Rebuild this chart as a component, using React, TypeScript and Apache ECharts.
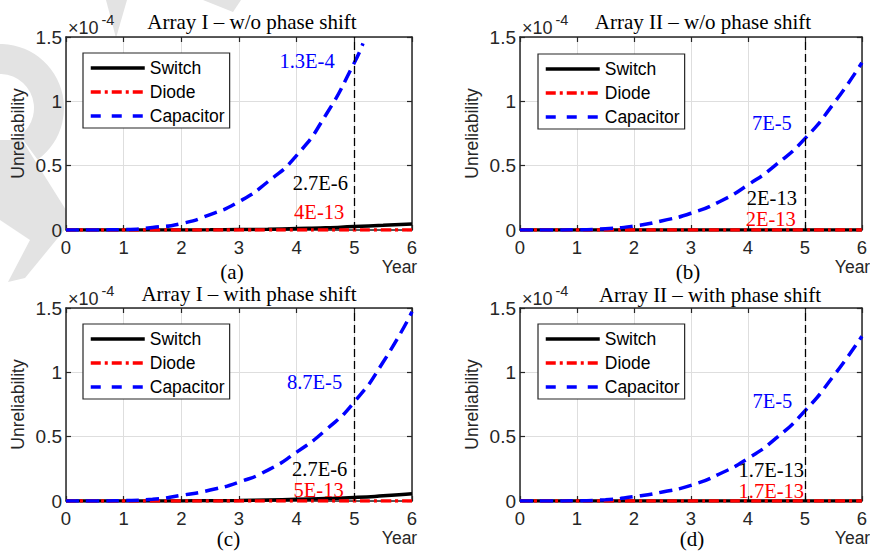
import React, { useEffect, useRef } from "react";
import * as echarts from "echarts";

// ---- data (values in units of 1e-4) ----
const years = [0, 0.5, 1, 1.5, 2, 2.5, 3, 3.5, 4, 4.5, 5, 5.5, 6];
const capAYears = [0, 0.5, 1, 1.5, 2, 2.5, 3, 3.5, 4, 4.5, 5, 5.15];

const capA = [0, 0.0005, 0.003, 0.02, 0.05, 0.12, 0.22, 0.375, 0.58, 0.89, 1.3, 1.45];
const switchA = [0, 0, 0, 0, 0.0005, 0.001, 0.003, 0.006, 0.011, 0.017, 0.027, 0.036, 0.047];
const diodeA = [0, 0, 0, 0, 0, 0, 0, 0, 0, 0, 0, 0, 0];

const capB = [0, 0.0002, 0.002, 0.01, 0.031, 0.072, 0.13, 0.22, 0.35, 0.51, 0.71, 0.98, 1.3];
const switchB = [0, 0, 0, 0, 0, 0, 0, 0, 0, 0, 0, 0, 0];
const diodeB = [0, 0, 0, 0, 0, 0, 0, 0, 0, 0, 0, 0, 0];

const capC = [0, 0.0003, 0.003, 0.013, 0.044, 0.085, 0.147, 0.24, 0.38, 0.55, 0.77, 1.08, 1.47];
const switchC = [0, 0, 0, 0, 0.0005, 0.002, 0.004, 0.008, 0.013, 0.019, 0.027, 0.04, 0.057];
const diodeC = [0, 0, 0, 0, 0, 0, 0, 0, 0, 0, 0, 0, 0];

const capD = [0, 0.0002, 0.002, 0.01, 0.034, 0.07, 0.122, 0.21, 0.33, 0.49, 0.7, 0.97, 1.28];
const switchD = [0, 0, 0, 0, 0, 0, 0, 0, 0, 0, 0, 0, 0];
const diodeD = [0, 0, 0, 0, 0, 0, 0, 0, 0, 0, 0, 0, 0];

const titles = [
  "Array I \u2013 w/o phase shift",
  "Array II \u2013 w/o phase shift",
  "Array I \u2013 with phase shift",
  "Array II \u2013 with phase shift",
];
const captions = ["(a)", "(b)", "(c)", "(d)"];
const seriesNames = ["Switch", "Diode", "Capacitor"];
const xTicks = { min: 0, max: 6, interval: 1 };
const yTicks = { min: 0, max: 1.5, interval: 0.5 };
const markYear = 5;

// annotation texts: [capacitor, switch, diode]
const annA = ["1.3E-4", "2.7E-6", "4E-13"];
const annB = ["7E-5", "2E-13", "2E-13"];
const annC = ["8.7E-5", "2.7E-6", "5E-13"];
const annD = ["7E-5", "1.7E-13", "1.7E-13"];

// ---- layout ----
const grids = [
  { left: 66, top: 37, width: 346, height: 193 },
  { left: 520, top: 37, width: 345, height: 193 },
  { left: 66, top: 308, width: 346, height: 193 },
  { left: 520, top: 308, width: 345, height: 193 },
];
const titlePos = [
  [252, 22],
  [703, 22],
  [249, 294],
  [710, 295],
];
const captionPos = [
  [232, 272],
  [688, 272],
  [228.5, 539],
  [692, 539],
];
const legendPos = [
  [83, 53],
  [538, 54],
  [83, 324],
  [538, 324],
];
// annotation anchor positions in data coords [cap, switch, diode]
const annPos = [
  [[4.18, 1.31], [4.41, 0.365], [4.39, 0.14]],
  [[4.42, 0.83], [4.42, 0.252], [4.4, 0.084]],
  [[4.31, 0.923], [4.4, 0.252], [4.38, 0.082]],
  [[4.43, 0.78], [4.41, 0.244], [4.41, 0.076]],
];

const panels = [
  { capX: capAYears, cap: capA, sw: switchA, di: diodeA, ann: annA },
  { capX: years, cap: capB, sw: switchB, di: diodeB, ann: annB },
  { capX: years, cap: capC, sw: switchC, di: diodeC, ann: annC },
  { capX: years, cap: capD, sw: switchD, di: diodeD, ann: annD },
];

const AXIS = "#262626";
const SANS = "Liberation Sans, Arial, sans-serif";
const SERIF = "Liberation Serif, Times New Roman, serif";
const COLORS = { Switch: "#000000", Diode: "#ff0000", Capacitor: "#0000ff" };

function pairs(xs: number[], ys: number[]) {
  return xs.map((x, i) => [x, ys[i]]);
}

function buildOption() {
  const xAxis: any[] = [];
  const yAxis: any[] = [];
  const series: any[] = [];
  const legend: any[] = [];
  const graphic: any[] = [];

  // watermark (light gray)
  const wm = "#e3e3e3";
  graphic.push({
    type: "sector",
    z: -10,
    shape: { cx: 0, cy: 108, r0: 34, r: 64, startAngle: -Math.PI * 0.6, endAngle: Math.PI * 0.3 },
    style: { fill: wm },
  });
  graphic.push({
    type: "polygon",
    z: -10,
    shape: { points: [[0, 140], [22, 140], [66, 210], [66, 228], [25, 278], [8, 282], [30, 240], [0, 220]] },
    style: { fill: wm },
  });
  graphic.push({ type: "polygon", z: -10, shape: { points: [[106, 0], [127, 0], [116, 38]] }, style: { fill: wm } });
  graphic.push({ type: "polygon", z: -10, shape: { points: [[203, 0], [241, 0], [233, 12]] }, style: { fill: wm } });

  grids.forEach((g, i) => {
    const common = { gridIndex: i, type: "value", silent: true };
    const line = { show: true, onZero: false, lineStyle: { color: AXIS, width: 1.5 } };
    const tick = { show: true, inside: true, length: 5, lineStyle: { color: AXIS, width: 1.2 } };
    xAxis.push({
      ...common,
      ...xTicks,
      position: "bottom",
      axisLine: line,
      axisTick: tick,
      axisLabel: { fontSize: 18.5, lineHeight: 16, color: AXIS, fontFamily: SANS, margin: 9 },
      splitLine: { show: true, lineStyle: { color: "#dedede", width: 1 } },
    });
    xAxis.push({
      ...common,
      ...xTicks,
      position: "top",
      axisLine: line,
      axisTick: tick,
      axisLabel: { show: false },
      splitLine: { show: false },
    });
    yAxis.push({
      ...common,
      ...yTicks,
      position: "left",
      axisLine: line,
      axisTick: tick,
      axisLabel: { fontSize: 19, color: AXIS, fontFamily: SANS, margin: 4 },
      splitLine: { show: true, lineStyle: { color: "#dedede", width: 1 } },
    });
    yAxis.push({
      ...common,
      ...yTicks,
      position: "right",
      axisLine: line,
      axisTick: tick,
      axisLabel: { show: false },
      splitLine: { show: false },
    });

    const p = panels[i];
    const base = {
      type: "line",
      xAxisIndex: 2 * i,
      yAxisIndex: 2 * i,
      symbol: "none",
      smooth: 0.6,
      silent: true,
    };
    series.push({
      ...base,
      name: "Switch",
      data: pairs(years, p.sw),
      z: 2,
      itemStyle: { color: COLORS.Switch },
      lineStyle: { color: COLORS.Switch, width: 3.5 },
      markLine: {
        silent: true,
        symbol: "none",
        label: { show: false },
        lineStyle: { color: "#000", width: 1.3, type: [8, 4] },
        data: [{ xAxis: markYear }],
      },
    });
    series.push({
      ...base,
      name: "Diode",
      data: pairs(years, p.di),
      z: 3,
      itemStyle: { color: COLORS.Diode },
      lineStyle: { color: COLORS.Diode, width: 3.5, type: [10, 4, 3, 4] },
    });
    series.push({
      ...base,
      name: "Capacitor",
      data: pairs(p.capX, p.cap),
      z: 4,
      itemStyle: { color: COLORS.Capacitor },
      lineStyle: { color: COLORS.Capacitor, width: 3.5, type: [13, 7] },
      markPoint: {
        silent: true,
        symbol: "rect",
        symbolSize: 1,
        itemStyle: { color: "rgba(0,0,0,0)" },
        label: {
          show: true,
          position: "inside",
          formatter: "{b}",
          fontFamily: SERIF,
          fontSize: 20.5,
          lineHeight: 16,
        },
        data: p.ann.map((t, k) => ({
          name: t,
          coord: annPos[i][k],
          label: { color: [COLORS.Capacitor, COLORS.Switch, COLORS.Diode][k] },
        })),
      },
    });

    legend.push({
      left: legendPos[i][0],
      top: legendPos[i][1],
      orient: "vertical",
      data: seriesNames.map((n) => ({
        name: n,
        lineStyle:
          n === "Capacitor"
            ? { width: 3.5, type: [10, 11] }
            : n === "Diode"
            ? { width: 3.5, type: [10, 4, 3, 4] }
            : { width: 3.5 },
      })),
      itemWidth: 54,
      itemHeight: 14,
      itemGap: 6,
      padding: [6, 5, 3, 6],
      borderColor: AXIS,
      borderWidth: 1.2,
      borderRadius: 0,
      backgroundColor: "#fff",
      selectedMode: false,
      itemStyle: { opacity: 0 },
      lineStyle: { width: 3.5 },
      textStyle: { fontSize: 17.5, fontFamily: SANS, color: "#000", lineHeight: 18 },
    });

    // titles and captions
    graphic.push({
      type: "text",
      x: titlePos[i][0],
      y: titlePos[i][1],
      style: { text: titles[i], font: `21px ${SERIF}`, fill: "#000", align: "center", verticalAlign: "middle" },
    });
    graphic.push({
      type: "text",
      x: captionPos[i][0],
      y: captionPos[i][1],
      style: { text: captions[i], font: `21px ${SERIF}`, fill: "#000", align: "center", verticalAlign: "middle" },
    });
    // exponent
    graphic.push({
      type: "text",
      x: g.left + 2,
      y: g.top - 9,
      style: { text: "\u00d710", font: `18px ${SANS}`, fill: AXIS, align: "left", verticalAlign: "middle" },
    });
    graphic.push({
      type: "text",
      x: g.left + 35.5,
      y: g.top - 17,
      style: { text: "-4", font: `14.5px ${SANS}`, fill: AXIS, align: "left", verticalAlign: "middle" },
    });
    // axis names
    graphic.push({
      type: "text",
      x: g.left + g.width - 12.5,
      y: g.top + g.height + 37,
      style: { text: "Year", font: `17.5px ${SANS}`, fill: AXIS, align: "center", verticalAlign: "middle" },
    });
    graphic.push({
      type: "text",
      x: g.left - 48,
      y: g.top + g.height / 2,
      rotation: Math.PI / 2,
      style: { text: "Unreliability", font: `17.5px ${SANS}`, fill: AXIS, align: "center", verticalAlign: "middle" },
    });
  });

  return {
    animation: false,
    backgroundColor: "#fff",
    grid: grids.map((g) => ({ ...g, show: true, borderWidth: 0, backgroundColor: "#fff", containLabel: false })),
    xAxis,
    yAxis,
    legend,
    series,
    graphic,
  };
}

export default function App() {
  const ref = useRef<HTMLDivElement>(null);
  useEffect(() => {
    if (!ref.current) return;
    const chart = echarts.init(ref.current, undefined, { renderer: "svg" });
    chart.setOption(buildOption() as any);
    return () => chart.dispose();
  }, []);
  return (
    <div
      ref={ref}
      style={{ position: "absolute", left: 0, top: 0, width: 870, height: 552, background: "#fff" }}
    />
  );
}
